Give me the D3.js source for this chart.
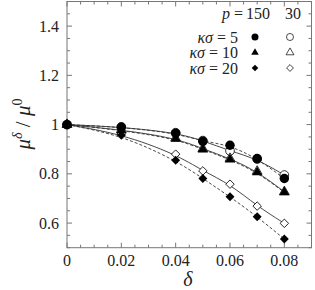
<!DOCTYPE html>
<html>
<head>
<meta charset="utf-8">
<script src="https://cdn.jsdelivr.net/npm/d3@7"></script>
<style>
  body { margin: 0; background: #fff; }
  svg text { font-family: "Liberation Serif", "DejaVu Serif", serif; }
</style>
</head>
<body>
<svg id="chart" width="315" height="290"></svg>
<script>
const delta = [0, 0.02, 0.04, 0.05, 0.06, 0.07, 0.08];

// p = 150 (filled)
const k5_p150 = [1, 0.99, 0.965, 0.932, 0.916, 0.862, 0.781];
const k10_p150 = [1, 0.977, 0.942, 0.899, 0.858, 0.806, 0.725];
const k20_p150 = [1, 0.957, 0.855, 0.781, 0.707, 0.626, 0.535];
// p = 30 (open)
const k5_p30 = [1, 0.99, 0.967, 0.935, 0.893, 0.86, 0.795];
const k10_p30 = [1, 0.979, 0.945, 0.902, 0.862, 0.81, 0.727];
const k20_p30 = [1, 0.962, 0.88, 0.812, 0.758, 0.669, 0.599];

const xTicks = [0, 0.02, 0.04, 0.06, 0.08];
const yTicks = [0.6, 0.8, 1.0, 1.2, 1.4];

const legendRows = ["κσ = 5", "κσ = 10", "κσ = 20"];

const svg = d3.select("#chart");
const pLeft = 67, pRight = 311.5, pTop = 1.5, pBottom = 247.7;

const x = d3.scaleLinear().domain([0, 0.09]).range([pLeft, pRight]);
const y = d3.scaleLinear().domain([0.5, 1.5]).range([pBottom, pTop]);

const axisColor = "#777";
const textColor = "#222";
const fs = 16;

// frame
svg.append("rect")
    .attr("x", pLeft).attr("y", pTop)
    .attr("width", pRight - pLeft).attr("height", pBottom - pTop)
    .attr("fill", "none").attr("stroke", axisColor).attr("stroke-width", 1);

// ticks (inward, all four sides)
const xMinor = d3.range(0, 0.0901, 0.005);
const yMinor = d3.range(0.5, 1.501, 0.05);
const isMajor = (v, step) => Math.abs(v / step - Math.round(v / step)) < 1e-6;

const tg = svg.append("g").attr("stroke", axisColor).attr("stroke-width", 1);
xMinor.forEach(v => {
    const len = isMajor(v, 0.02) ? 5 : 3;
    tg.append("line").attr("x1", x(v)).attr("x2", x(v)).attr("y1", pBottom).attr("y2", pBottom - len);
    tg.append("line").attr("x1", x(v)).attr("x2", x(v)).attr("y1", pTop).attr("y2", pTop + len);
});
yMinor.forEach(v => {
    const len = isMajor(v - 0.4, 0.2) ? 5 : 3;
    tg.append("line").attr("y1", y(v)).attr("y2", y(v)).attr("x1", pLeft).attr("x2", pLeft + len);
    tg.append("line").attr("y1", y(v)).attr("y2", y(v)).attr("x1", pRight).attr("x2", pRight - len);
});

// tick labels
svg.selectAll(".xl").data(xTicks).enter().append("text")
    .attr("x", d => x(d)).attr("y", 265.5)
    .attr("text-anchor", "middle").attr("font-size", fs).attr("fill", textColor)
    .text(d => d === 0 ? "0" : d3.format(".2f")(d));
svg.selectAll(".yl").data(yTicks).enter().append("text")
    .attr("x", pLeft - 8).attr("y", d => y(d)).attr("dy", "0.34em")
    .attr("text-anchor", "end").attr("font-size", fs).attr("fill", textColor)
    .text(d => d === 1 ? "1" : d3.format(".1f")(d));

// axis titles
svg.append("text")
    .attr("x", x(0.0445)).attr("y", 286)
    .attr("text-anchor", "middle").attr("font-size", 20).attr("font-style", "italic")
    .attr("fill", textColor)
    .text("δ");
const yt = svg.append("text")
    .attr("transform", "translate(30,124) rotate(-90)")
    .attr("text-anchor", "middle").attr("font-size", 21).attr("font-style", "italic")
    .attr("fill", textColor);
yt.append("tspan").text("μ");
yt.append("tspan").attr("dy", -8).attr("font-size", 14).text("δ");
yt.append("tspan").attr("dy", 8).attr("font-style", "normal").text(" / ");
yt.append("tspan").text("μ");
yt.append("tspan").attr("dy", -8).attr("font-size", 14).attr("font-style", "normal").text("0");

// series
const series = [
    { v: k5_p150, shape: d3.symbolCircle, size: 70, rot: 0, fill: true, dash: "3,2" },
    { v: k10_p150, shape: d3.symbolTriangle, size: 45, rot: 0, fill: true, dash: "3,2" },
    { v: k20_p150, shape: d3.symbolSquare, size: 40, rot: 45, fill: true, dash: "3,2" },
    { v: k5_p30, shape: d3.symbolCircle, size: 60, rot: 0, fill: false, dash: null },
    { v: k10_p30, shape: d3.symbolTriangle, size: 42, rot: 0, fill: false, dash: null },
    { v: k20_p30, shape: d3.symbolSquare, size: 36, rot: 45, fill: false, dash: null }
];

const line = d3.line()
    .x((d, i) => x(delta[i]))
    .y(d => y(d))
    .curve(d3.curveBasis);

series.forEach(s => {
    svg.append("path")
        .attr("d", line(s.v))
        .attr("fill", "none").attr("stroke", "#333").attr("stroke-width", 0.9)
        .attr("stroke-dasharray", s.dash);
});

// open first, filled on top
[...series.slice(3), ...series.slice(0, 3)].forEach(s => {
    svg.selectAll(null).data(s.v).enter().append("path")
        .attr("transform", (d, i) => `translate(${x(delta[i])},${y(d)}) rotate(${s.rot})`)
        .attr("d", d3.symbol().type(s.shape).size(s.size))
        .attr("fill", s.fill ? "#000" : "#fff")
        .attr("stroke", "#000").attr("stroke-width", s.fill ? 0 : 0.8);
});

// legend
const lg = svg.append("g").attr("fill", textColor);
const header = lg.append("text").attr("x", 243).attr("y", 19)
    .attr("text-anchor", "end").attr("font-size", fs);
header.append("tspan").attr("font-style", "italic").text("p");
header.append("tspan").text(" =");
lg.append("text").attr("x", 258).attr("y", 19).attr("text-anchor", "middle").attr("font-size", fs).text("150");
lg.append("text").attr("x", 293).attr("y", 19).attr("text-anchor", "middle").attr("font-size", fs).text("30");

const rowY = [37, 52.5, 68];
legendRows.forEach((r, i) => {
    const t = lg.append("text").attr("x", 238).attr("y", rowY[i]).attr("dy", "0.35em")
        .attr("text-anchor", "end").attr("font-size", fs);
    t.append("tspan").attr("font-style", "italic").text("κσ");
    t.append("tspan").text(r.slice(2));
    const s1 = series[i], s2 = series[i + 3];
    lg.append("path").attr("transform", `translate(255,${rowY[i]}) rotate(${s1.rot})`)
        .attr("d", d3.symbol().type(s1.shape).size(s1.size * 0.55)).attr("fill", "#000");
    lg.append("path").attr("transform", `translate(290,${rowY[i]}) rotate(${s2.rot})`)
        .attr("d", d3.symbol().type(s2.shape).size(s2.size * 0.65))
        .attr("fill", "#fff").attr("stroke", "#000").attr("stroke-width", 0.7);
});
</script>
</body>
</html>
